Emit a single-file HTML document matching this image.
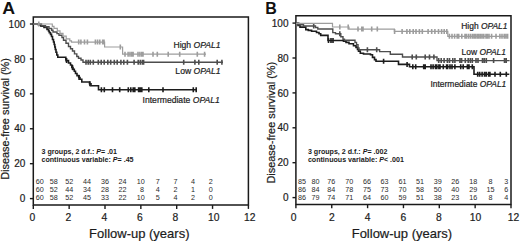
<!DOCTYPE html>
<html><head><meta charset="utf-8"><style>
html,body{margin:0;padding:0;background:#fff;width:520px;height:241px;overflow:hidden}
svg{display:block}
text{font-family:"Liberation Sans", sans-serif;stroke:#222;stroke-width:0.2px}
text[font-weight=bold],text.rk{stroke:none}
</style></head><body>
<svg width="520" height="241" viewBox="0 0 520 241">
<rect width="520" height="241" fill="#fff"/>
<path d="M33.3,16.9H248.4V205.1H33.3Z" fill="none" stroke="#1a1a1a" stroke-width="1.5"/>
<path d="M29.9,198.60H33.3" stroke="#1a1a1a" stroke-width="1.4"/>
<text x="25.30" y="202.20" text-anchor="end" font-size="10" fill="#1a1a1a">0</text>
<path d="M29.9,163.68H33.3" stroke="#1a1a1a" stroke-width="1.4"/>
<text x="25.30" y="167.28" text-anchor="end" font-size="10" fill="#1a1a1a">20</text>
<path d="M29.9,128.76H33.3" stroke="#1a1a1a" stroke-width="1.4"/>
<text x="25.30" y="132.36" text-anchor="end" font-size="10" fill="#1a1a1a">40</text>
<path d="M29.9,93.84H33.3" stroke="#1a1a1a" stroke-width="1.4"/>
<text x="25.30" y="97.44" text-anchor="end" font-size="10" fill="#1a1a1a">60</text>
<path d="M29.9,58.92H33.3" stroke="#1a1a1a" stroke-width="1.4"/>
<text x="25.30" y="62.52" text-anchor="end" font-size="10" fill="#1a1a1a">80</text>
<path d="M29.9,24.00H33.3" stroke="#1a1a1a" stroke-width="1.4"/>
<text x="25.30" y="27.60" text-anchor="end" font-size="10" fill="#1a1a1a">100</text>
<path d="M33.30,205.1V208.90" stroke="#1a1a1a" stroke-width="1.4"/>
<text x="32.40" y="221.3" text-anchor="middle" font-size="10.3" fill="#1a1a1a">0</text>
<path d="M69.15,205.1V208.90" stroke="#1a1a1a" stroke-width="1.4"/>
<text x="68.40" y="221.3" text-anchor="middle" font-size="10.3" fill="#1a1a1a">2</text>
<path d="M105.00,205.1V208.90" stroke="#1a1a1a" stroke-width="1.4"/>
<text x="104.30" y="221.3" text-anchor="middle" font-size="10.3" fill="#1a1a1a">4</text>
<path d="M140.85,205.1V208.90" stroke="#1a1a1a" stroke-width="1.4"/>
<text x="139.90" y="221.3" text-anchor="middle" font-size="10.3" fill="#1a1a1a">6</text>
<path d="M176.70,205.1V208.90" stroke="#1a1a1a" stroke-width="1.4"/>
<text x="175.40" y="221.3" text-anchor="middle" font-size="10.3" fill="#1a1a1a">8</text>
<path d="M212.55,205.1V208.90" stroke="#1a1a1a" stroke-width="1.4"/>
<text x="213.80" y="221.3" text-anchor="middle" font-size="10.3" fill="#1a1a1a">10</text>
<path d="M248.40,205.1V208.90" stroke="#1a1a1a" stroke-width="1.4"/>
<text x="249.80" y="221.3" text-anchor="middle" font-size="10.3" fill="#1a1a1a">12</text>
<path d="M33.3,24H38.5V25H41V26.3H44V27.5H47V29.4H48.5V31H49.3V32.6H50.5V34.4H51.5V36.5H52.5V39.5H53.5V42H54.2V44.5H54.8V47H55.3V49.5H56V52.3H56.8V55H57.8V57.3H65.8V59H66V60.6H68.5V63H70.5V65H71.8V67.5H73V69.4H74.3V71.2H75.5V73.5H77V75.6H78.7V77.5H80V79.3H81.8V82.0H89.5V83.7H91V85.7H98.5V89.8H197" fill="none" stroke="#1c1c1c" stroke-width="1.6"/>
<path d="M66.6,58.10V63.10M72.5,65.00V70.00M79.1,75.00V80.00M89.9,81.20V86.20M101.4,87.30V92.30M104.3,87.30V92.30M112.5,87.30V92.30M119.7,87.30V92.30M128.3,87.30V92.30M130.8,87.30V92.30M133.2,87.30V92.30M134.8,87.30V92.30M138.6,87.30V92.30M140.2,87.30V92.30M141.8,87.30V92.30M148.8,87.30V92.30M163,87.30V92.30M193.3,87.30V92.30M196.2,87.30V92.30" stroke="#1c1c1c" stroke-width="1.6"/>
<path d="M33.3,24H41.5V25.7H45.5V26.8H49V28.5H51.7V30.2H53V32H57V33.6H59V35.2H62V37.5H63.5V40.3H66V43.3H68.5V46.5H70.5V48.7H72.5V51H74.5V53.9H76.8V56.5H78.5V58.3H81V60H83V62.3H223" fill="none" stroke="#4d4d4d" stroke-width="1.4"/>
<path d="M86,59.80V64.80M88.2,59.80V64.80M90.3,59.80V64.80M93.3,59.80V64.80M98.3,59.80V64.80M101.2,59.80V64.80M104.2,59.80V64.80M107.8,59.80V64.80M110.7,59.80V64.80M114.3,59.80V64.80M117.2,59.80V64.80M120.9,59.80V64.80M123.8,59.80V64.80M127.4,59.80V64.80M134.1,59.80V64.80M138.2,59.80V64.80M140.3,59.80V64.80M142.4,59.80V64.80M143.6,59.80V64.80M183.7,59.80V64.80M194.9,59.80V64.80M198.8,59.80V64.80M217.2,59.80V64.80M221.9,59.80V64.80" stroke="#4d4d4d" stroke-width="1.6"/>
<path d="M33.3,24H52.3V26.4H54V28.4H57.3V30.8H60V33.3H63V36.1H66.2V38.8H69.8V40.8H71.5V42.1H104.6V47.0H122.6V54.2H206" fill="none" stroke="#9d9d9d" stroke-width="1.2"/>
<path d="M38.8,21.50V26.50M78.7,39.60V44.60M80.9,39.60V44.60M84.5,39.60V44.60M87.4,39.60V44.60M95.4,39.60V44.60M97.6,39.60V44.60M99.8,39.60V44.60M102.7,39.60V44.60M104,39.60V44.60M120.3,44.50V49.50M125,51.70V56.70M128.1,51.70V56.70M130,51.70V56.70M131.8,51.70V56.70M133.1,51.70V56.70M138,51.70V56.70M139.9,51.70V56.70M141.8,51.70V56.70M143,51.70V56.70M153,51.70V56.70M157.3,51.70V56.70M168.2,51.70V56.70M179.7,51.70V56.70M197.3,51.70V56.70M204.6,51.70V56.70" stroke="#9d9d9d" stroke-width="1.6"/>
<text x="220.6" y="47.9" text-anchor="end" font-size="8.6" fill="#1a1a1a">High <tspan font-style="italic">OPAL1</tspan></text>
<text x="220.6" y="74.3" text-anchor="end" font-size="8.6" fill="#1a1a1a">Low <tspan font-style="italic">OPAL1</tspan></text>
<text x="219.8" y="103.0" text-anchor="end" font-size="8.6" fill="#1a1a1a">Intermediate <tspan font-style="italic">OPAL1</tspan></text>
<text x="41.5" y="154.0" font-size="7.1" font-weight="bold" fill="#1a1a1a">3 groups, 2 d.f.: <tspan font-style="italic">P</tspan>= .01</text>
<text x="41.5" y="162.3" font-size="7.1" font-weight="bold" fill="#1a1a1a">continuous variable: <tspan font-style="italic">P</tspan>= .45</text>
<text class="rk" x="39.70" y="183.50" text-anchor="middle" font-size="7.2" fill="#2a2a2a">60</text>
<text class="rk" x="53.80" y="183.50" text-anchor="middle" font-size="7.2" fill="#2a2a2a">58</text>
<text class="rk" x="69.30" y="183.50" text-anchor="middle" font-size="7.2" fill="#2a2a2a">52</text>
<text class="rk" x="86.90" y="183.50" text-anchor="middle" font-size="7.2" fill="#2a2a2a">44</text>
<text class="rk" x="104.90" y="183.50" text-anchor="middle" font-size="7.2" fill="#2a2a2a">36</text>
<text class="rk" x="122.50" y="183.50" text-anchor="middle" font-size="7.2" fill="#2a2a2a">24</text>
<text class="rk" x="140.80" y="183.50" text-anchor="middle" font-size="7.2" fill="#2a2a2a">10</text>
<text class="rk" x="157.80" y="183.50" text-anchor="middle" font-size="7.2" fill="#2a2a2a">7</text>
<text class="rk" x="175.40" y="183.50" text-anchor="middle" font-size="7.2" fill="#2a2a2a">7</text>
<text class="rk" x="193.10" y="183.50" text-anchor="middle" font-size="7.2" fill="#2a2a2a">4</text>
<text class="rk" x="210.80" y="183.50" text-anchor="middle" font-size="7.2" fill="#2a2a2a">2</text>
<text class="rk" x="39.70" y="191.85" text-anchor="middle" font-size="7.2" fill="#2a2a2a">60</text>
<text class="rk" x="53.80" y="191.85" text-anchor="middle" font-size="7.2" fill="#2a2a2a">52</text>
<text class="rk" x="69.30" y="191.85" text-anchor="middle" font-size="7.2" fill="#2a2a2a">44</text>
<text class="rk" x="86.90" y="191.85" text-anchor="middle" font-size="7.2" fill="#2a2a2a">34</text>
<text class="rk" x="104.90" y="191.85" text-anchor="middle" font-size="7.2" fill="#2a2a2a">28</text>
<text class="rk" x="122.50" y="191.85" text-anchor="middle" font-size="7.2" fill="#2a2a2a">22</text>
<text class="rk" x="142.10" y="191.85" text-anchor="middle" font-size="7.2" fill="#2a2a2a">8</text>
<text class="rk" x="157.80" y="191.85" text-anchor="middle" font-size="7.2" fill="#2a2a2a">4</text>
<text class="rk" x="175.40" y="191.85" text-anchor="middle" font-size="7.2" fill="#2a2a2a">2</text>
<text class="rk" x="193.10" y="191.85" text-anchor="middle" font-size="7.2" fill="#2a2a2a">1</text>
<text class="rk" x="210.80" y="191.85" text-anchor="middle" font-size="7.2" fill="#2a2a2a">0</text>
<text class="rk" x="39.70" y="200.20" text-anchor="middle" font-size="7.2" fill="#2a2a2a">60</text>
<text class="rk" x="53.80" y="200.20" text-anchor="middle" font-size="7.2" fill="#2a2a2a">58</text>
<text class="rk" x="69.30" y="200.20" text-anchor="middle" font-size="7.2" fill="#2a2a2a">52</text>
<text class="rk" x="86.90" y="200.20" text-anchor="middle" font-size="7.2" fill="#2a2a2a">45</text>
<text class="rk" x="104.90" y="200.20" text-anchor="middle" font-size="7.2" fill="#2a2a2a">33</text>
<text class="rk" x="122.50" y="200.20" text-anchor="middle" font-size="7.2" fill="#2a2a2a">22</text>
<text class="rk" x="140.80" y="200.20" text-anchor="middle" font-size="7.2" fill="#2a2a2a">10</text>
<text class="rk" x="157.80" y="200.20" text-anchor="middle" font-size="7.2" fill="#2a2a2a">5</text>
<text class="rk" x="175.40" y="200.20" text-anchor="middle" font-size="7.2" fill="#2a2a2a">4</text>
<text class="rk" x="193.10" y="200.20" text-anchor="middle" font-size="7.2" fill="#2a2a2a">2</text>
<text class="rk" x="210.80" y="200.20" text-anchor="middle" font-size="7.2" fill="#2a2a2a">0</text>
<text transform="translate(2.3,14.0) scale(1.07,1)" font-size="16.6" font-weight="bold" fill="#111">A</text>
<text transform="translate(8.60,119.00) rotate(-90)" text-anchor="middle" font-size="10.9" fill="#1a1a1a">Disease-free survival (%)</text>
<text x="139.30" y="238" text-anchor="middle" font-size="13" fill="#1a1a1a">Follow-up (years)</text>
<path d="M295.9,15.8H511.0V204.4H295.9Z" fill="none" stroke="#1a1a1a" stroke-width="1.5"/>
<path d="M292.5,197.60H295.9" stroke="#1a1a1a" stroke-width="1.4"/>
<text x="288.50" y="201.20" text-anchor="end" font-size="10" fill="#1a1a1a">0</text>
<path d="M292.5,162.70H295.9" stroke="#1a1a1a" stroke-width="1.4"/>
<text x="288.50" y="166.30" text-anchor="end" font-size="10" fill="#1a1a1a">20</text>
<path d="M292.5,127.80H295.9" stroke="#1a1a1a" stroke-width="1.4"/>
<text x="288.50" y="131.40" text-anchor="end" font-size="10" fill="#1a1a1a">40</text>
<path d="M292.5,92.90H295.9" stroke="#1a1a1a" stroke-width="1.4"/>
<text x="288.50" y="96.50" text-anchor="end" font-size="10" fill="#1a1a1a">60</text>
<path d="M292.5,58.00H295.9" stroke="#1a1a1a" stroke-width="1.4"/>
<text x="288.50" y="61.60" text-anchor="end" font-size="10" fill="#1a1a1a">80</text>
<path d="M292.5,23.10H295.9" stroke="#1a1a1a" stroke-width="1.4"/>
<text x="288.50" y="26.70" text-anchor="end" font-size="10" fill="#1a1a1a">100</text>
<path d="M295.90,204.4V208.20" stroke="#1a1a1a" stroke-width="1.4"/>
<text x="293.50" y="221.3" text-anchor="middle" font-size="10.3" fill="#1a1a1a">0</text>
<path d="M331.75,204.4V208.20" stroke="#1a1a1a" stroke-width="1.4"/>
<text x="331.90" y="221.3" text-anchor="middle" font-size="10.3" fill="#1a1a1a">2</text>
<path d="M367.60,204.4V208.20" stroke="#1a1a1a" stroke-width="1.4"/>
<text x="367.50" y="221.3" text-anchor="middle" font-size="10.3" fill="#1a1a1a">4</text>
<path d="M403.45,204.4V208.20" stroke="#1a1a1a" stroke-width="1.4"/>
<text x="403.30" y="221.3" text-anchor="middle" font-size="10.3" fill="#1a1a1a">6</text>
<path d="M439.30,204.4V208.20" stroke="#1a1a1a" stroke-width="1.4"/>
<text x="438.80" y="221.3" text-anchor="middle" font-size="10.3" fill="#1a1a1a">8</text>
<path d="M475.15,204.4V208.20" stroke="#1a1a1a" stroke-width="1.4"/>
<text x="475.40" y="221.3" text-anchor="middle" font-size="10.3" fill="#1a1a1a">10</text>
<path d="M511.00,204.4V208.20" stroke="#1a1a1a" stroke-width="1.4"/>
<text x="513.40" y="221.3" text-anchor="middle" font-size="10.3" fill="#1a1a1a">12</text>
<path d="M295.9,23.3H298V25.5H300V27.1H305.8V29.6H308.3V30.4H311.6V31.3H316.5V32.5H319V33.7H320.7V35.4H328V40.5H343.5V41.2H346V42.4H349V43.8H353.5V45.8H356V47.4H357.5V49.5H358.5V51.1H360.3V53.2H363.5V54H370.5V54.8H372.5V57.4H374.5V59.6H376V61.2H398.5V64.4H409.5V66.7H474V74.2H509.3" fill="none" stroke="#1c1c1c" stroke-width="1.6"/>
<path d="M328.5,38.00V43.00M331,38.00V43.00M333,38.00V43.00M383.6,58.70V63.70M407.1,61.90V66.90M412.8,64.20V69.20M415.7,64.20V69.20M423.7,64.20V69.20M425.2,64.20V69.20M431,64.20V69.20M433.1,64.20V69.20M435.5,64.20V69.20M436.8,64.20V69.20M438.9,64.20V69.20M440,64.20V69.20M443.3,64.20V69.20M446.6,64.20V69.20M447.6,64.20V69.20M450,64.20V69.20M452,64.20V69.20M454.9,64.20V69.20M460.7,64.20V69.20M463.2,64.20V69.20M467.4,64.20V69.20M469,64.20V69.20M472.3,64.20V69.20M477.7,71.70V76.70M479.7,71.70V76.70M482.1,71.70V76.70M484.5,71.70V76.70M486.2,71.70V76.70M488.6,71.70V76.70M489.9,71.70V76.70M495,71.70V76.70M500.3,71.70V76.70M506.3,71.70V76.70" stroke="#1c1c1c" stroke-width="1.6"/>
<path d="M295.9,23.3H299V24.8H303.5V26H315.5V27.5H317.8V29H332.8V32.6H335.5V33.8H340.8V36.8H343V39.2H344.5V40.2H355V42.4H356.5V44.6H358V48H359V49.7H379.6V51.6H390.3V54.3H402.5V57.0H437V60.6H509.6" fill="none" stroke="#4d4d4d" stroke-width="1.4"/>
<path d="M313.7,23.50V28.50M339.8,31.30V36.30M367.4,47.20V52.20M376.7,47.20V52.20M412.2,54.50V59.50M416.3,54.50V59.50M425.2,54.50V59.50M429.5,54.50V59.50M433.9,54.50V59.50M438.7,58.10V63.10M441.2,58.10V63.10M444.1,58.10V63.10M447.4,58.10V63.10M449.5,58.10V63.10M452.8,58.10V63.10M454.9,58.10V63.10M459.9,58.10V63.10M461.6,58.10V63.10M465.3,58.10V63.10M468.2,58.10V63.10M470.3,58.10V63.10M472.3,58.10V63.10M476,58.10V63.10M478,58.10V63.10M482.5,58.10V63.10M484.3,58.10V63.10M486.3,58.10V63.10M493.6,58.10V63.10M504.5,58.10V63.10M506.2,58.10V63.10" stroke="#4d4d4d" stroke-width="1.6"/>
<path d="M295.9,23.3H332.5V27.0H349V29.1H394.4V31.4H447.8V36.3H508" fill="none" stroke="#9d9d9d" stroke-width="1.2"/>
<path d="M339.8,24.50V29.50M348.2,24.50V29.50M358,26.60V31.60M361.8,26.60V31.60M363,26.60V31.60M371.7,26.60V31.60M377.3,26.60V31.60M394.6,28.90V33.90M402.1,28.90V33.90M406.9,28.90V33.90M409.8,28.90V33.90M413.2,28.90V33.90M416,28.90V33.90M419.4,28.90V33.90M422.3,28.90V33.90M428.1,28.90V33.90M431.7,28.90V33.90M434.9,28.90V33.90M438.5,28.90V33.90M441.6,28.90V33.90M444.2,28.90V33.90M446.8,28.90V33.90M449.4,33.80V38.80M452,33.80V38.80M454.6,33.80V38.80M457.2,33.80V38.80M458.7,33.80V38.80M461.8,33.80V38.80M465,33.80V38.80M466.5,33.80V38.80M468.6,33.80V38.80M470.6,33.80V38.80M472.6,33.80V38.80M474.3,33.80V38.80M475.6,33.80V38.80M477.4,33.80V38.80M478.7,33.80V38.80M480.4,33.80V38.80M482.1,33.80V38.80M483.8,33.80V38.80M486,33.80V38.80M487.3,33.80V38.80M489,33.80V38.80M491.6,33.80V38.80M496,33.80V38.80M499.9,33.80V38.80M502,33.80V38.80M504.2,33.80V38.80M505.9,33.80V38.80M507.6,33.80V38.80" stroke="#9d9d9d" stroke-width="1.6"/>
<text x="507.5" y="28.9" text-anchor="end" font-size="8.45" fill="#1a1a1a">High <tspan font-style="italic">OPAL1</tspan></text>
<text x="506.0" y="55.2" text-anchor="end" font-size="8.45" fill="#1a1a1a">Low <tspan font-style="italic">OPAL1</tspan></text>
<text x="506.3" y="86.7" text-anchor="end" font-size="8.45" fill="#1a1a1a">Intermediate <tspan font-style="italic">OPAL1</tspan></text>
<text x="307.9" y="154.0" font-size="7.1" font-weight="bold" fill="#1a1a1a">3 groups, 2 d.f.: <tspan font-style="italic">P</tspan>= .002</text>
<text x="307.9" y="162.3" font-size="7.1" font-weight="bold" fill="#1a1a1a">continuous variable: <tspan font-style="italic">P</tspan>&lt; .001</text>
<text class="rk" x="301.90" y="183.50" text-anchor="middle" font-size="7.2" fill="#2a2a2a">85</text>
<text class="rk" x="315.60" y="183.50" text-anchor="middle" font-size="7.2" fill="#2a2a2a">80</text>
<text class="rk" x="331.20" y="183.50" text-anchor="middle" font-size="7.2" fill="#2a2a2a">76</text>
<text class="rk" x="349.20" y="183.50" text-anchor="middle" font-size="7.2" fill="#2a2a2a">70</text>
<text class="rk" x="366.90" y="183.50" text-anchor="middle" font-size="7.2" fill="#2a2a2a">66</text>
<text class="rk" x="384.60" y="183.50" text-anchor="middle" font-size="7.2" fill="#2a2a2a">63</text>
<text class="rk" x="402.60" y="183.50" text-anchor="middle" font-size="7.2" fill="#2a2a2a">61</text>
<text class="rk" x="420.00" y="183.50" text-anchor="middle" font-size="7.2" fill="#2a2a2a">51</text>
<text class="rk" x="437.70" y="183.50" text-anchor="middle" font-size="7.2" fill="#2a2a2a">39</text>
<text class="rk" x="455.30" y="183.50" text-anchor="middle" font-size="7.2" fill="#2a2a2a">26</text>
<text class="rk" x="473.30" y="183.50" text-anchor="middle" font-size="7.2" fill="#2a2a2a">18</text>
<text class="rk" x="490.50" y="183.50" text-anchor="middle" font-size="7.2" fill="#2a2a2a">8</text>
<text class="rk" x="506.20" y="183.50" text-anchor="middle" font-size="7.2" fill="#2a2a2a">3</text>
<text class="rk" x="301.90" y="191.85" text-anchor="middle" font-size="7.2" fill="#2a2a2a">86</text>
<text class="rk" x="315.60" y="191.85" text-anchor="middle" font-size="7.2" fill="#2a2a2a">84</text>
<text class="rk" x="331.20" y="191.85" text-anchor="middle" font-size="7.2" fill="#2a2a2a">84</text>
<text class="rk" x="349.20" y="191.85" text-anchor="middle" font-size="7.2" fill="#2a2a2a">78</text>
<text class="rk" x="366.90" y="191.85" text-anchor="middle" font-size="7.2" fill="#2a2a2a">75</text>
<text class="rk" x="384.60" y="191.85" text-anchor="middle" font-size="7.2" fill="#2a2a2a">73</text>
<text class="rk" x="402.60" y="191.85" text-anchor="middle" font-size="7.2" fill="#2a2a2a">70</text>
<text class="rk" x="420.00" y="191.85" text-anchor="middle" font-size="7.2" fill="#2a2a2a">58</text>
<text class="rk" x="437.70" y="191.85" text-anchor="middle" font-size="7.2" fill="#2a2a2a">50</text>
<text class="rk" x="455.30" y="191.85" text-anchor="middle" font-size="7.2" fill="#2a2a2a">40</text>
<text class="rk" x="473.30" y="191.85" text-anchor="middle" font-size="7.2" fill="#2a2a2a">29</text>
<text class="rk" x="490.50" y="191.85" text-anchor="middle" font-size="7.2" fill="#2a2a2a">15</text>
<text class="rk" x="506.20" y="191.85" text-anchor="middle" font-size="7.2" fill="#2a2a2a">6</text>
<text class="rk" x="301.90" y="200.20" text-anchor="middle" font-size="7.2" fill="#2a2a2a">86</text>
<text class="rk" x="315.60" y="200.20" text-anchor="middle" font-size="7.2" fill="#2a2a2a">79</text>
<text class="rk" x="331.20" y="200.20" text-anchor="middle" font-size="7.2" fill="#2a2a2a">74</text>
<text class="rk" x="349.20" y="200.20" text-anchor="middle" font-size="7.2" fill="#2a2a2a">71</text>
<text class="rk" x="366.90" y="200.20" text-anchor="middle" font-size="7.2" fill="#2a2a2a">64</text>
<text class="rk" x="384.60" y="200.20" text-anchor="middle" font-size="7.2" fill="#2a2a2a">60</text>
<text class="rk" x="402.60" y="200.20" text-anchor="middle" font-size="7.2" fill="#2a2a2a">59</text>
<text class="rk" x="420.00" y="200.20" text-anchor="middle" font-size="7.2" fill="#2a2a2a">51</text>
<text class="rk" x="437.70" y="200.20" text-anchor="middle" font-size="7.2" fill="#2a2a2a">38</text>
<text class="rk" x="455.30" y="200.20" text-anchor="middle" font-size="7.2" fill="#2a2a2a">23</text>
<text class="rk" x="473.30" y="200.20" text-anchor="middle" font-size="7.2" fill="#2a2a2a">16</text>
<text class="rk" x="490.50" y="200.20" text-anchor="middle" font-size="7.2" fill="#2a2a2a">8</text>
<text class="rk" x="506.20" y="200.20" text-anchor="middle" font-size="7.2" fill="#2a2a2a">4</text>
<text x="265.2" y="13.5" font-size="16" font-weight="bold" fill="#111">B</text>
<text transform="translate(274.90,122.70) rotate(-90)" text-anchor="middle" font-size="10.9" fill="#1a1a1a">Disease-free survival (%)</text>
<text x="401.90" y="238" text-anchor="middle" font-size="13" fill="#1a1a1a">Follow-up (years)</text>
</svg>
</body></html>
